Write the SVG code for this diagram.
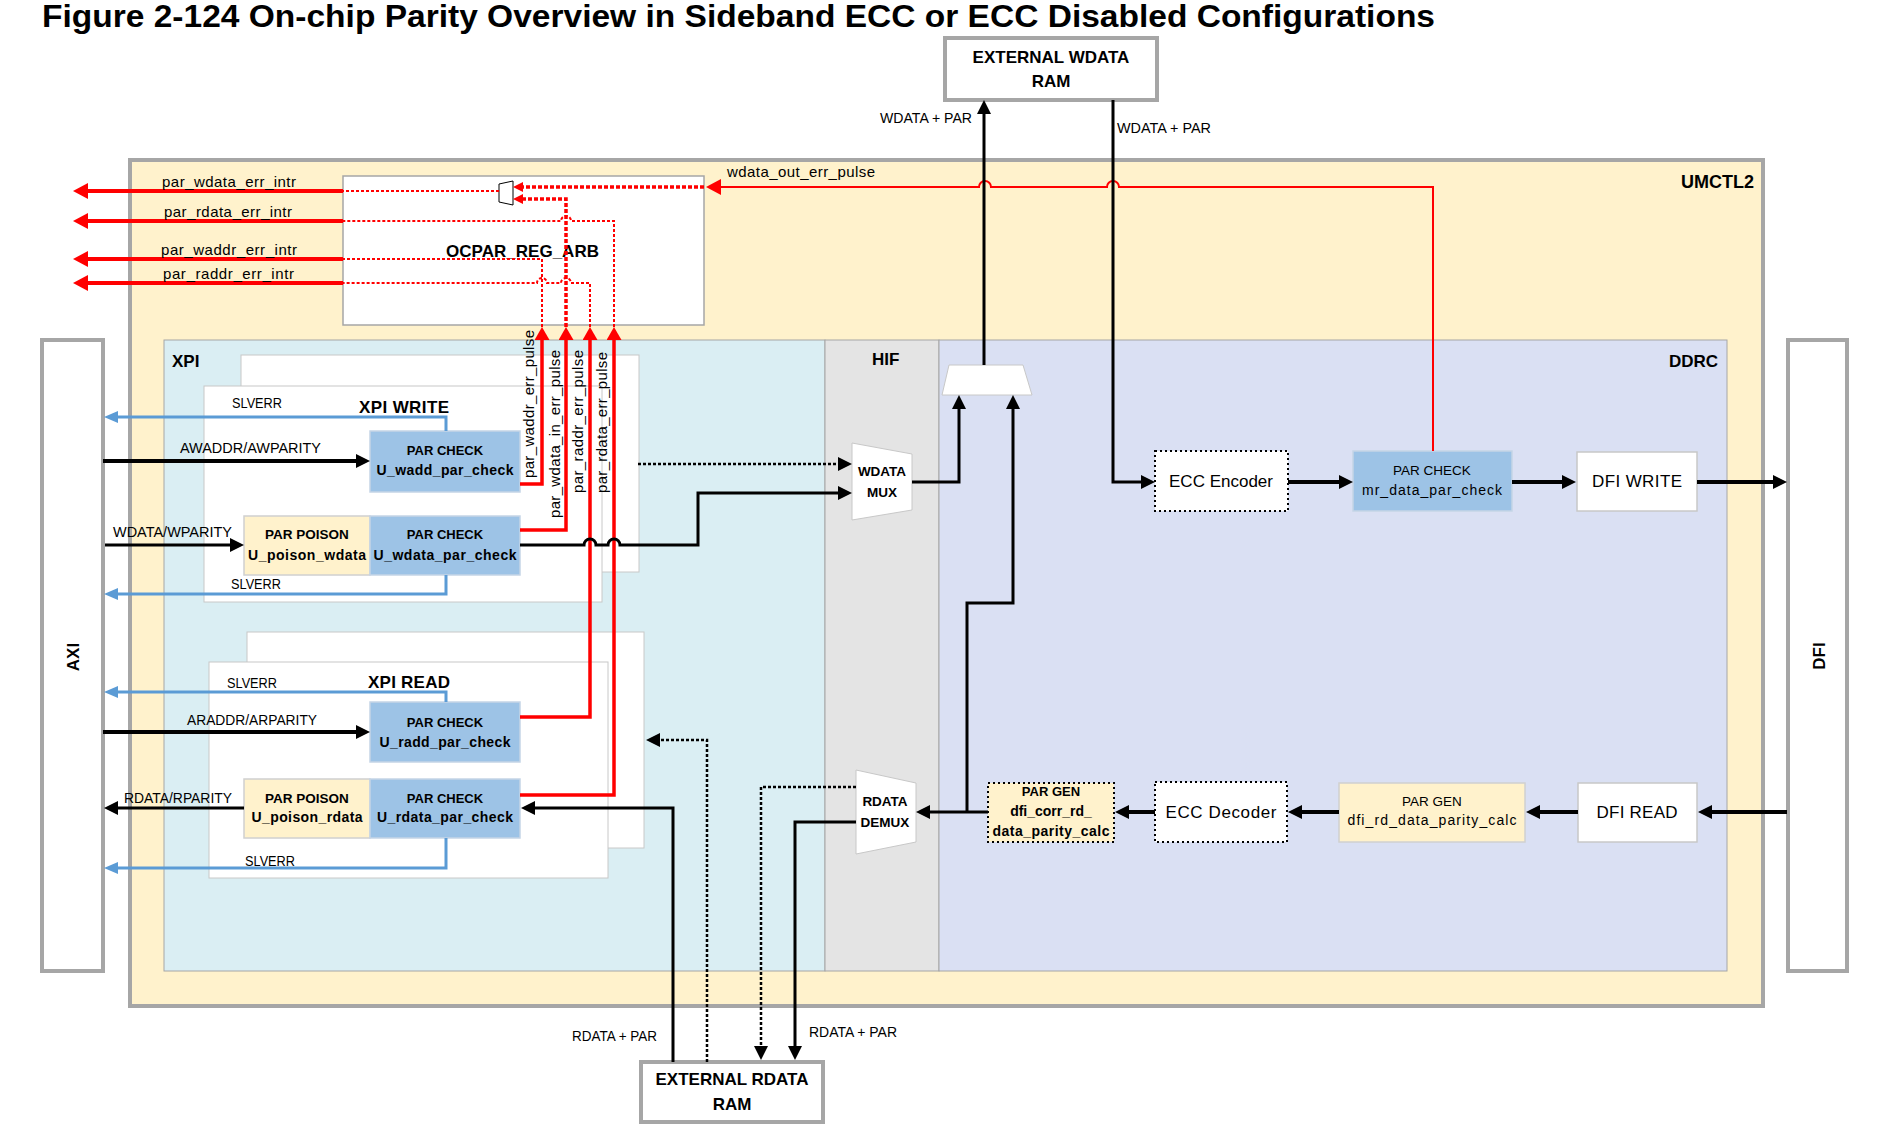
<svg xmlns="http://www.w3.org/2000/svg" width="1888" height="1129" viewBox="0 0 1888 1129">
<style>
text { font-family: "Liberation Sans", Arial, sans-serif; fill: #000; }
.b { font-weight: bold; }
.c { text-anchor: middle; }
.e { text-anchor: end; }
.s13 { font-size: 13px; }
.s14 { font-size: 14px; }
.s15 { font-size: 15px; }
.s17 { font-size: 17px; }
.lab { font-size: 14px; }
.reg { stroke: #a6a6a6; stroke-width: 1; }
.box4 { fill: #fff; stroke: #a6a6a6; stroke-width: 4; }
.frame { fill: #fff; stroke: #c8c8c8; stroke-width: 1; }
.chk { fill: #9dc3e6; stroke: #c5d5e6; stroke-width: 1.5; }
.poi { fill: #fff2cc; stroke: #d0d0d0; stroke-width: 1.5; }
.wb { fill: #fff; stroke: #c8c8c8; stroke-width: 1.5; }
.dotb { stroke: #000; stroke-width: 2; stroke-dasharray: 2 3; }
.blk { fill: none; stroke: #000; stroke-width: 3; }
.blk4 { fill: none; stroke: #000; stroke-width: 4; }
.blkd { fill: none; stroke: #000; stroke-width: 2.5; stroke-dasharray: 3 2; }
.red4 { fill: none; stroke: #f00; stroke-width: 4; }
.redv { fill: none; stroke: #f00; stroke-width: 3.5; }
.redd { fill: none; stroke: #f00; stroke-width: 2; stroke-dasharray: 3 2; }
.reddt { fill: none; stroke: #f00; stroke-width: 3.5; stroke-dasharray: 4 2; }
.redt { fill: none; stroke: #f00; stroke-width: 2; }
.blu { fill: none; stroke: #5b9bd5; stroke-width: 3; }
.mux { fill: #fff; stroke: #c8c8c8; stroke-width: 1; }
</style>
<defs>
<marker id="mB" markerUnits="userSpaceOnUse" markerWidth="14" markerHeight="14" refX="0" refY="7" orient="auto"><path d="M0,0 L14,7 L0,14 z" fill="#000"/></marker>
<marker id="mR" markerUnits="userSpaceOnUse" markerWidth="15" markerHeight="16" refX="0" refY="8" orient="auto"><path d="M0,0 L15,8 L0,16 z" fill="#f00"/></marker>
<marker id="mRu" markerUnits="userSpaceOnUse" markerWidth="13" markerHeight="15" refX="0" refY="7.5" orient="auto"><path d="M0,0 L13,7.5 L0,15 z" fill="#f00"/></marker>
<marker id="mRs" markerUnits="userSpaceOnUse" markerWidth="10" markerHeight="10" refX="0" refY="5" orient="auto"><path d="M0,0 L10,5 L0,10 z" fill="#f00"/></marker>
<marker id="mBl" markerUnits="userSpaceOnUse" markerWidth="14" markerHeight="12" refX="0" refY="6" orient="auto"><path d="M0,0 L14,6 L0,12 z" fill="#5b9bd5"/></marker>
</defs>

<rect width="1888" height="1129" fill="#fff"/>
<text class="b" x="42" y="27" font-size="31" textLength="1393" lengthAdjust="spacingAndGlyphs">Figure 2-124  On-chip Parity Overview in Sideband ECC or ECC Disabled Configurations</text>

<g id="umctl2">
<rect x="130" y="160" width="1633" height="846" fill="#fff2cc" stroke="#a6a6a6" stroke-width="4"/>
<text class="b e" x="1754" y="188" font-size="18">UMCTL2</text>
</g>
<g id="xpi">
<rect class="reg" x="164" y="340" width="661" height="631" fill="#daeef3"/>
<text class="b" x="172" y="367" font-size="17">XPI</text>
</g>
<g id="hif">
<rect class="reg" x="825" y="340" width="114" height="631" fill="#e4e4e4"/>
<text class="b" x="872" y="365" font-size="17">HIF</text>
</g>
<g id="ddrc">
<rect class="reg" x="939" y="340" width="788" height="631" fill="#dae0f3"/>
<text class="b e" x="1718" y="367" font-size="17">DDRC</text>
</g>
<g id="axi">
<rect class="box4" x="42" y="340" width="61" height="631"/>
<text class="b c s17" transform="translate(79,657) rotate(-90)">AXI</text>
</g>
<g id="dfi">
<rect class="box4" x="1788" y="340" width="59" height="631"/>
<text class="b c s17" transform="translate(1825,656) rotate(-90)">DFI</text>
</g>
<g id="ocpar_reg_arb">
<rect x="343" y="176" width="361" height="149" fill="#fff" stroke="#a6a6a6" stroke-width="1.5"/>
<text class="b s17" x="446" y="257" textLength="153">OCPAR_REG_ARB</text>
<polygon points="499,184 513,181 513,205 499,202" fill="#fff" stroke="#000" stroke-width="1"/>
</g>
<g id="ext_wdata_ram">
<rect class="box4" x="945" y="38" width="212" height="62"/>
<text class="b c s17" x="1051" y="63">EXTERNAL WDATA</text>
<text class="b c s17" x="1051" y="87">RAM</text>
</g>
<g id="ext_rdata_ram">
<rect class="box4" x="641" y="1062" width="182" height="60"/>
<text class="b c s17" x="732" y="1085">EXTERNAL RDATA</text>
<text class="b c s17" x="732" y="1110">RAM</text>
</g>

<g id="xpi_write">
<rect class="frame" x="241" y="355" width="398" height="217"/>
<rect class="frame" x="204" y="386" width="398" height="216"/>
<text class="b s17" x="359" y="413" textLength="90">XPI WRITE</text>
</g>
<g id="u_wadd_par_check">
<rect class="chk" x="370" y="431" width="150" height="61"/>
<text class="b c s13" x="445" y="455">PAR CHECK</text>
<text class="b c s14" x="445" y="475" textLength="137">U_wadd_par_check</text>
</g>
<g id="u_poison_wdata">
<rect class="poi" x="244" y="516" width="126" height="59"/>
<text class="b c" font-size="13.5" x="307" y="539">PAR POISON</text>
<text class="b c s14" x="307" y="560" textLength="118">U_poison_wdata</text>
</g>
<g id="u_wdata_par_check">
<rect class="chk" x="370" y="516" width="150" height="59"/>
<text class="b c s13" x="445" y="539">PAR CHECK</text>
<text class="b c s14" x="445" y="560" textLength="143">U_wdata_par_check</text>
</g>

<g id="xpi_read">
<rect class="frame" x="247" y="632" width="397" height="216"/>
<rect class="frame" x="209" y="662" width="399" height="216"/>
<text class="b s17" x="368" y="688" textLength="82">XPI READ</text>
</g>
<g id="u_radd_par_check">
<rect class="chk" x="370" y="702" width="150" height="60"/>
<text class="b c s13" x="445" y="727">PAR CHECK</text>
<text class="b c s14" x="445" y="747" textLength="131">U_radd_par_check</text>
</g>
<g id="u_poison_rdata">
<rect class="poi" x="244" y="779" width="126" height="59"/>
<text class="b c" font-size="13.5" x="307" y="803">PAR POISON</text>
<text class="b c s14" x="307" y="822" textLength="111">U_poison_rdata</text>
</g>
<g id="u_rdata_par_check">
<rect class="chk" x="370" y="779" width="150" height="59"/>
<text class="b c s13" x="445" y="803">PAR CHECK</text>
<text class="b c s14" x="445" y="822" textLength="136">U_rdata_par_check</text>
</g>

<g id="wdata_mux">
<polygon class="mux" points="852,443 912,454 912,510 852,520"/>
<text class="b c" font-size="13.5" x="882" y="476">WDATA</text>
<text class="b c" font-size="13.5" x="882" y="497">MUX</text>
</g>
<g id="rdata_demux">
<polygon class="mux" points="856,770 916,783 916,842 856,854"/>
<text class="b c" font-size="13.5" x="885" y="806">RDATA</text>
<text class="b c" font-size="13.5" x="885" y="827">DEMUX</text>
</g>
<g id="ram_mux">
<polygon class="mux" points="949,365 1023,365 1032,395 942,395"/>
</g>

<g id="ecc_encoder">
<rect class="dotb" x="1155" y="451" width="133" height="60" fill="#fff"/>
<text class="c s17" x="1221" y="487">ECC Encoder</text>
</g>
<g id="mr_data_par_check">
<rect class="chk" x="1353" y="451" width="159" height="60"/>
<text class="c" font-size="13.5" x="1432" y="475">PAR CHECK</text>
<text class="c s14" x="1432" y="495" textLength="140">mr_data_par_check</text>
</g>
<g id="dfi_write">
<rect class="wb" x="1577" y="452" width="120" height="59"/>
<text class="c s17" x="1637" y="487" textLength="90">DFI WRITE</text>
</g>
<g id="par_gen_corr">
<rect class="dotb" x="988" y="783" width="126" height="59" fill="#fff2cc"/>
<text class="b c s13" x="1051" y="796">PAR GEN</text>
<text class="b c s14" x="1051" y="816">dfi_corr_rd_</text>
<text class="b c s14" x="1051" y="836" textLength="117">data_parity_calc</text>
</g>
<g id="ecc_decoder">
<rect class="dotb" x="1155" y="782" width="132" height="60" fill="#fff"/>
<text class="c s17" x="1221" y="818" textLength="111">ECC Decoder</text>
</g>
<g id="par_gen_rd">
<rect class="poi" x="1339" y="783" width="186" height="59"/>
<text class="c" font-size="13.5" x="1432" y="806">PAR GEN</text>
<text class="c s14" x="1432" y="825" textLength="169">dfi_rd_data_parity_calc</text>
</g>
<g id="dfi_read">
<rect class="wb" x="1578" y="783" width="119" height="59"/>
<text class="c s17" x="1637" y="818" textLength="81">DFI READ</text>
</g>

<g id="connectors">
<path class="red4" d="M343,191 H88" marker-end="url(#mR)"/>
<path class="red4" d="M343,221 H88" marker-end="url(#mR)"/>
<path class="red4" d="M343,259 H88" marker-end="url(#mR)"/>
<path class="red4" d="M343,283 H88" marker-end="url(#mR)"/>
<path class="redd" d="M499,191 H343"/>
<path class="redd" d="M614,327 V221 H571 a5,5 0 0 0 -10,0 H343"/>
<path class="redd" d="M590,327 V283 H571 a5,5 0 0 0 -10,0 H547 a5,5 0 0 0 -10,0 H343"/>
<path class="redd" d="M542,327 V259 H343"/>
<path class="reddt" d="M566,327 V199 H523" marker-end="url(#mRs)"/>
<path class="reddt" d="M704,187 H523" marker-end="url(#mRs)"/>
<path class="redt" d="M1433,451 V187 H1119 a6,6 0 0 0 -12,0 H991 a6,6 0 0 0 -12,0 H721" marker-end="url(#mR)"/>
<path class="redv" d="M520,484 H542 V340" marker-end="url(#mRu)"/>
<path class="redv" d="M520,530 H566 V340" marker-end="url(#mRu)"/>
<path class="redv" d="M520,717 H590 V340" marker-end="url(#mRu)"/>
<path class="redv" d="M520,795 H614 V340" marker-end="url(#mRu)"/>
<path class="blu" d="M446,431 V417 H118" marker-end="url(#mBl)"/>
<path class="blu" d="M446,575 V594 H118" marker-end="url(#mBl)"/>
<path class="blu" d="M446,702 V692 H118" marker-end="url(#mBl)"/>
<path class="blu" d="M446,838 V868 H118" marker-end="url(#mBl)"/>
<path class="blk4" d="M103,461 H356" marker-end="url(#mB)"/>
<path class="blk" d="M105,545 H230" marker-end="url(#mB)"/>
<path class="blk4" d="M103,732 H356" marker-end="url(#mB)"/>
<path class="blk" d="M244,808 H118" marker-end="url(#mB)"/>
<path class="blk" stroke-width="2.5" d="M520,545 H584 a6,6 0 0 1 12,0 H608 a6,6 0 0 1 12,0 H698 V493 H838" marker-end="url(#mB)"/>
<path class="blkd" d="M638,464 H838" marker-end="url(#mB)"/>
<path class="blk" d="M912,482 H959 V409" marker-end="url(#mB)"/>
<path class="blk" d="M967,812 V603 H1013 V409" marker-end="url(#mB)"/>
<path class="blk" d="M984,365 V114" marker-end="url(#mB)"/>
<path class="blk" d="M1113,100 V482 H1141" marker-end="url(#mB)"/>
<path class="blk4" d="M1288,482 H1339" marker-end="url(#mB)"/>
<path class="blk4" d="M1512,482 H1562" marker-end="url(#mB)"/>
<path class="blk4" d="M1697,482 H1773" marker-end="url(#mB)"/>
<path class="blk4" d="M1787,812 H1712" marker-end="url(#mB)"/>
<path class="blk4" d="M1578,812 H1540" marker-end="url(#mB)"/>
<path class="blk4" d="M1339,812 H1302" marker-end="url(#mB)"/>
<path class="blk4" d="M1155,812 H1129" marker-end="url(#mB)"/>
<path class="blk" d="M988,812 H930" marker-end="url(#mB)"/>
<path class="blkd" d="M856,787 H761 V1046" marker-end="url(#mB)"/>
<path class="blk" d="M856,822 H795 V1046" marker-end="url(#mB)"/>
<path class="blk" stroke-width="3.5" d="M673,1062 V808 H535" marker-end="url(#mB)"/>
<path class="blkd" d="M707,1062 V740 H660" marker-end="url(#mB)"/>
</g>

<g id="labels">
<text class="s15" x="162" y="187" textLength="134">par_wdata_err_intr</text>
<text class="s15" x="164" y="217" textLength="128">par_rdata_err_intr</text>
<text class="s15" x="161" y="255" textLength="136">par_waddr_err_intr</text>
<text class="s15" x="163" y="279" textLength="131">par_raddr_err_intr</text>
<text class="s15" x="727" y="177" textLength="148">wdata_out_err_pulse</text>
<text class="s15" transform="translate(534,478) rotate(-90)" textLength="148">par_waddr_err_pulse</text>
<text class="s15" transform="translate(560,518) rotate(-90)" textLength="168">par_wdata_in_err_pulse</text>
<text class="s15" transform="translate(583,493) rotate(-90)" textLength="143">par_raddr_err_pulse</text>
<text class="s15" transform="translate(607,493) rotate(-90)" textLength="141">par_rdata_err_pulse</text>
<text class="lab" x="232" y="408" textLength="50" lengthAdjust="spacingAndGlyphs">SLVERR</text>
<text class="lab" x="180" y="453" textLength="141" lengthAdjust="spacingAndGlyphs">AWADDR/AWPARITY</text>
<text class="lab" x="113" y="537" textLength="119" lengthAdjust="spacingAndGlyphs">WDATA/WPARITY</text>
<text class="lab" x="231" y="589" textLength="50" lengthAdjust="spacingAndGlyphs">SLVERR</text>
<text class="lab" x="227" y="688" textLength="50" lengthAdjust="spacingAndGlyphs">SLVERR</text>
<text class="lab" x="187" y="725" textLength="130" lengthAdjust="spacingAndGlyphs">ARADDR/ARPARITY</text>
<text class="lab" x="124" y="803" textLength="108" lengthAdjust="spacingAndGlyphs">RDATA/RPARITY</text>
<text class="lab" x="245" y="866" textLength="50" lengthAdjust="spacingAndGlyphs">SLVERR</text>
<text class="lab" x="880" y="123" textLength="92" lengthAdjust="spacingAndGlyphs">WDATA + PAR</text>
<text class="lab" x="1117" y="133" textLength="94" lengthAdjust="spacingAndGlyphs">WDATA + PAR</text>
<text class="lab" x="572" y="1041" textLength="85" lengthAdjust="spacingAndGlyphs">RDATA + PAR</text>
<text class="lab" x="809" y="1037" textLength="88" lengthAdjust="spacingAndGlyphs">RDATA + PAR</text>
</g>
</svg>
